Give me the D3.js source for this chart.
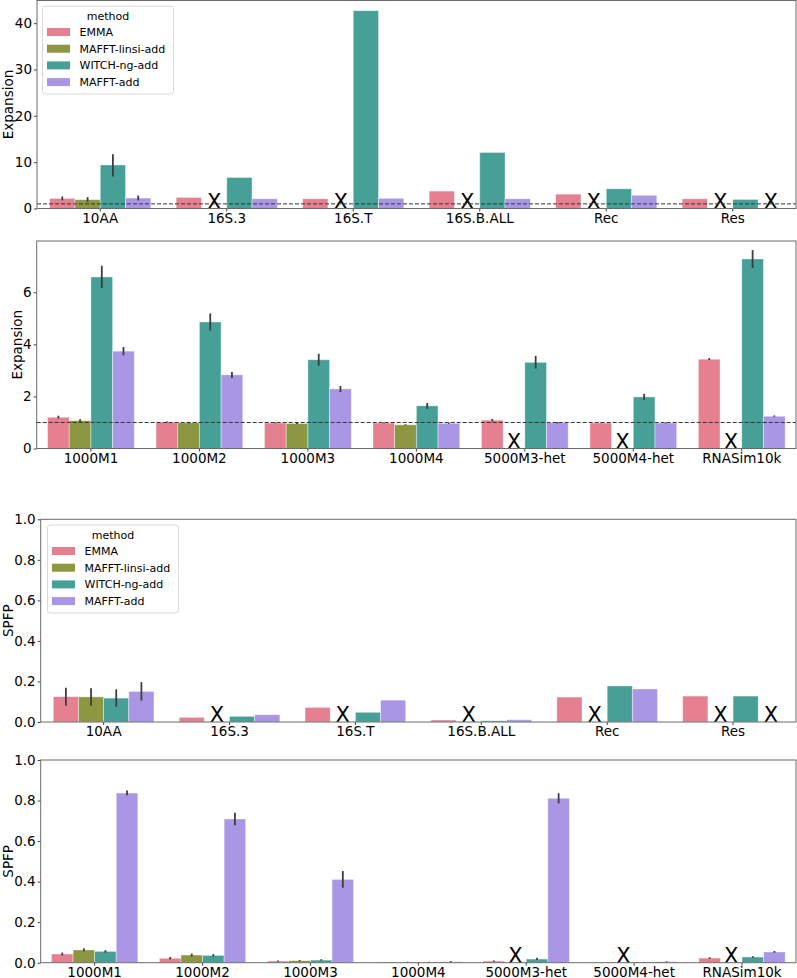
<!DOCTYPE html>
<html>
<head>
<meta charset="utf-8">
<script src="https://cdn.jsdelivr.net/npm/d3@7"></script>
<style>
  body { margin: 0; background: #fff; }
  svg { display: block; font-family: "DejaVu Sans", sans-serif; }
</style>
</head>
<body>
<div id="chart"></div>
<script>
// methods and colours
var methods = ["EMMA", "MAFFT-linsi-add", "WITCH-ng-add", "MAFFT-add"];
var colors = ["#e4808f", "#8d9640", "#47a097", "#a997e6"];

// datasets
var bioSets = ["10AA", "16S.3", "16S.T", "16S.B.ALL", "Rec", "Res"];
var simSets = ["1000M1", "1000M2", "1000M3", "1000M4", "5000M3-het", "5000M4-het", "RNASim10k"];

// expansion, biological (null = method failed -> "X")
var expBio = [[2.17, 1.9, 9.4, 2.26], [2.4, null, 6.7, 2.1], [2.1, null, 42.7, 2.2],
              [3.76, null, 12.1, 2.1], [3.1, null, 4.25, 2.85], [2.1, null, 1.96, null]];
var expBioLo = [[1.75, 1.45, 6.9, 1.75], null, null, null, null, null];
var expBioHi = [[2.6, 2.45, 11.7, 2.8], null, null, null, null, null];

// expansion, simulated
var expSim = [[1.2, 1.07, 6.59, 3.74], [1.01, 0.99, 4.86, 2.83], [0.98, 0.96, 3.41, 2.29],
              [0.98, 0.91, 1.64, 0.97], [1.09, null, 3.31, 0.99], [0.98, null, 1.98, 0.98],
              [3.43, null, 7.28, 1.24]];
var expSimLo = [[1.15, 1.03, 6.16, 3.58], [0.99, 0.97, 4.53, 2.71], [0.96, 0.94, 3.18, 2.17],
                [0.96, 0.89, 1.52, 0.95], [1.04, null, 3.07, 0.96], [0.97, null, 1.87, 0.96],
                [3.4, null, 6.94, 1.22]];
var expSimHi = [[1.26, 1.12, 7.02, 3.9], [1.04, 1.02, 5.19, 2.94], [1.0, 0.98, 3.64, 2.4],
                [1.0, 0.93, 1.75, 0.99], [1.14, null, 3.56, 1.02], [0.99, null, 2.1, 1.0],
                [3.47, null, 7.62, 1.27]];

// SPFP, biological
var spfpBio = [[0.125, 0.124, 0.118, 0.151], [0.023, null, 0.028, 0.036], [0.072, null, 0.048, 0.108],
               [0.01, null, 0.006, 0.011], [0.123, null, 0.178, 0.163], [0.128, null, 0.128, null]];
var spfpBioLo = [[0.08, 0.08, 0.075, 0.105], null, null, null, null, null];
var spfpBioHi = [[0.169, 0.167, 0.161, 0.197], null, null, null, null, null];

// SPFP, simulated
var spfpSim = [[0.043, 0.063, 0.056, 0.837], [0.022, 0.038, 0.036, 0.709], [0.008, 0.01, 0.013, 0.411],
               [0.002, 0.003, 0.003, 0.005], [0.008, null, 0.018, 0.811], [0.001, null, 0.003, 0.005],
               [0.023, null, 0.028, 0.053]];
var spfpSimLo = [[0.036, 0.056, 0.05, 0.826], [0.016, 0.031, 0.03, 0.678], [0.005, 0.007, 0.01, 0.37],
                 [0.001, 0.002, 0.002, 0.003], [0.005, null, 0.013, 0.786], [0.0005, null, 0.002, 0.003],
                 [0.019, null, 0.024, 0.049]];
var spfpSimHi = [[0.05, 0.071, 0.062, 0.849], [0.028, 0.045, 0.042, 0.74], [0.011, 0.013, 0.017, 0.452],
                 [0.004, 0.005, 0.005, 0.008], [0.011, null, 0.024, 0.836], [0.002, null, 0.004, 0.007],
                 [0.027, null, 0.032, 0.058]];

var expTicks1 = [0, 10, 20, 30, 40];
var expTicks2 = [0, 2, 4, 6];
var spfpTicks = [0, 0.2, 0.4, 0.6, 0.8, 1.0];

var W = 797, H = 978;
var svg = d3.select("#chart").append("svg")
  .attr("width", W).attr("height", H);

function panel(opt) {
  var g = svg.append("g");
  var x = d3.scaleBand().domain(opt.cats).range([opt.left, opt.right]).padding(0);
  var xm = d3.scaleBand().domain(methods).range([0.1 * x.bandwidth(), 0.9 * x.bandwidth()]).padding(0);
  var y = d3.scaleLinear().domain([0, opt.ymax]).range([opt.bottom, opt.top]);

  // bars
  opt.cats.forEach(function(c, i) {
    opt.vals[i].forEach(function(v, j) {
      var cx = x(c) + xm(methods[j]);
      if (v === null) {
        g.append("text")
          .attr("x", cx + xm.bandwidth() / 2)
          .attr("y", y(0))
          .attr("text-anchor", "middle")
          .attr("font-size", "21px")
          .attr("fill", "#000")
          .text("X");
        return;
      }
      g.append("rect")
        .attr("x", cx)
        .attr("y", y(v))
        .attr("width", xm.bandwidth())
        .attr("height", y(0) - y(v))
        .attr("fill", colors[j])
        .attr("stroke", "#ffffff")
        .attr("stroke-opacity", 0.5)
        .attr("stroke-width", 0.8);
      if (opt.lo && opt.lo[i] && opt.lo[i][j] !== null) {
        g.append("line")
          .attr("x1", cx + xm.bandwidth() / 2).attr("x2", cx + xm.bandwidth() / 2)
          .attr("y1", y(opt.lo[i][j])).attr("y2", y(opt.hi[i][j]))
          .attr("stroke", "#3d3d3d").attr("stroke-width", 1.8);
      }
    });
  });

  // dashed reference line
  if (opt.refLine) {
    g.append("line")
      .attr("x1", opt.left).attr("x2", opt.right)
      .attr("y1", y(1)).attr("y2", y(1))
      .attr("stroke", "#333").attr("stroke-width", 1)
      .attr("stroke-dasharray", "4,2");
  }

  // axes
  var xa = g.append("g").attr("transform", "translate(0," + opt.bottom + ")")
    .call(d3.axisBottom(x).tickSize(3).tickPadding(1.5));
  var ya = g.append("g").attr("transform", "translate(" + opt.left + ",0)")
    .call(d3.axisLeft(y).tickValues(opt.ticks).tickSize(3).tickPadding(2)
      .tickFormat(opt.fmt));
  [xa, ya].forEach(function(a) {
    a.select(".domain").remove();
    a.selectAll("text").attr("font-size", "13.5px").attr("fill", "#000")
      .attr("font-family", "DejaVu Sans, sans-serif");
    a.selectAll("line").attr("stroke", "#444");
  });

  // frame
  g.append("rect")
    .attr("x", opt.left).attr("y", opt.top)
    .attr("width", opt.right - opt.left).attr("height", opt.bottom - opt.top)
    .attr("fill", "none").attr("stroke", "#6a6a6a").attr("stroke-width", 1);

  // y label
  g.append("text")
    .attr("transform", "translate(" + opt.labelX + "," + (opt.top + opt.bottom) / 2 + ") rotate(-90)")
    .attr("text-anchor", "middle")
    .attr("font-size", "13.5px")
    .text(opt.ylabel);

  // legend
  if (opt.legend) {
    var L = opt.legend;
    var lg = g.append("g").attr("transform", "translate(" + L.x + "," + L.y + ")");
    lg.append("rect").attr("width", 131).attr("height", 88).attr("rx", 3)
      .attr("fill", "#fff").attr("fill-opacity", 0.8)
      .attr("stroke", "#d8d8d8");
    lg.append("text").attr("x", 65.5).attr("y", 14).attr("text-anchor", "middle")
      .attr("font-size", "11px").text("method");
    methods.forEach(function(m, j) {
      lg.append("rect").attr("x", 4.5).attr("y", 22 + j * 16.7)
        .attr("width", 23).attr("height", 8).attr("fill", colors[j]);
      lg.append("text").attr("x", 37).attr("y", 30 + j * 16.7)
        .attr("font-size", "11px").text(m);
    });
  }
}

panel({cats: bioSets, vals: expBio, lo: expBioLo, hi: expBioHi,
  left: 37, right: 796, top: 0.5, bottom: 208.5, ymax: 44.9,
  ticks: expTicks1, fmt: d3.format("d"), ylabel: "Expansion", labelX: 13,
  refLine: true, legend: {x: 42.5, y: 6}});

panel({cats: simSets, vals: expSim, lo: expSimLo, hi: expSimHi,
  left: 36.7, right: 796, top: 241, bottom: 448.5, ymax: 7.97,
  ticks: expTicks2, fmt: d3.format("d"), ylabel: "Expansion", labelX: 21.5,
  refLine: true});

panel({cats: bioSets, vals: spfpBio, lo: spfpBioLo, hi: spfpBioHi,
  left: 40.7, right: 796, top: 519.3, bottom: 722, ymax: 1,
  ticks: spfpTicks, fmt: d3.format(".1f"), ylabel: "SPFP", labelX: 13,
  legend: {x: 47.5, y: 525}});

panel({cats: simSets, vals: spfpSim, lo: spfpSimLo, hi: spfpSimHi,
  left: 40.7, right: 796, top: 760, bottom: 962.7, ymax: 1,
  ticks: spfpTicks, fmt: d3.format(".1f"), ylabel: "SPFP", labelX: 13});
</script>
</body>
</html>
